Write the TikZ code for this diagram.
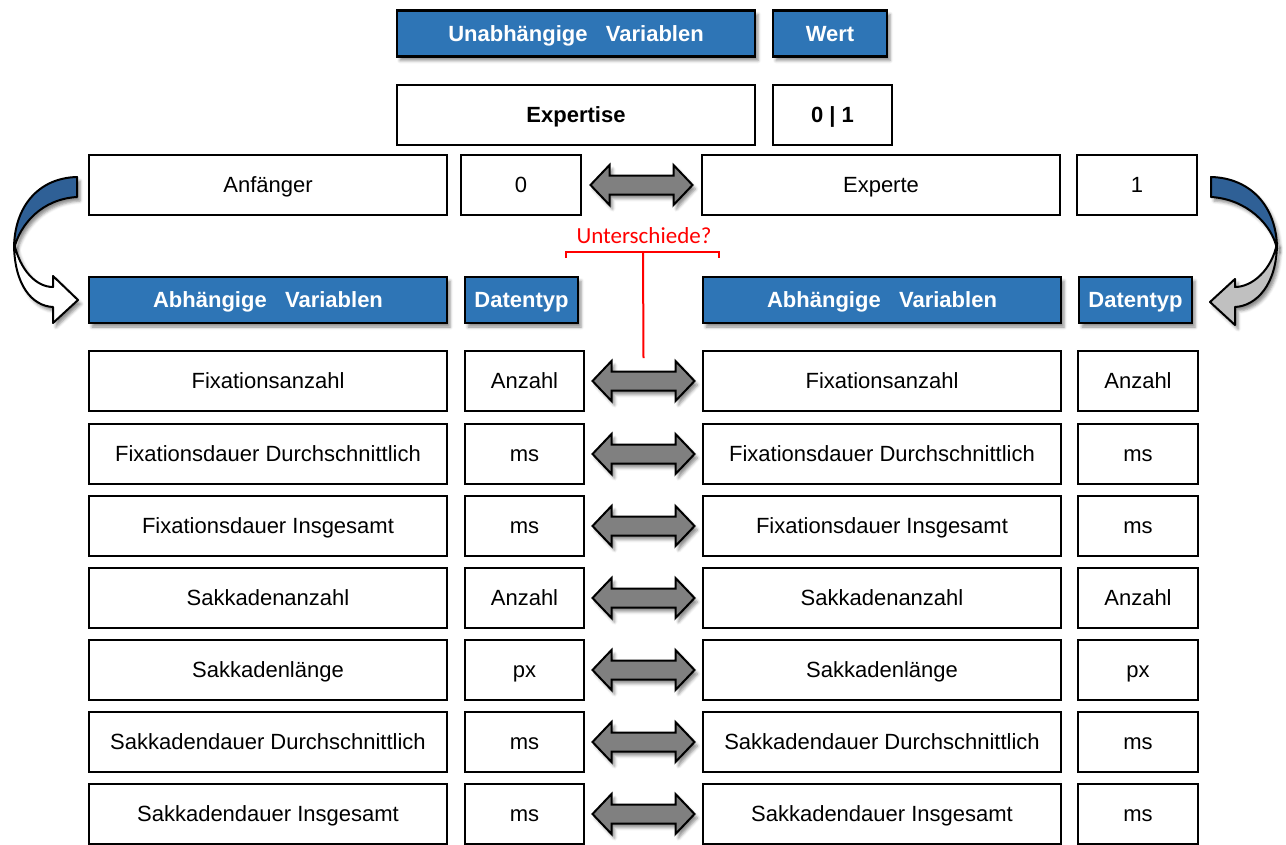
\documentclass[tikz,border=0pt]{standalone}
\usepackage{fontspec}
\setmainfont{Liberation Sans}
\newfontfamily\carlito{Carlito}
\usetikzlibrary{calc,shadows.blur}
\definecolor{hdrblue}{RGB}{46,117,182}
\definecolor{arcblue}{RGB}{47,96,150}
\definecolor{arrowgray}{RGB}{128,128,128}
\definecolor{backgray}{RGB}{192,192,192}

% two-headed arrow centred between two nodes
\newcommand\twoway[2]{%
  \path[dblarrow] let \p1=($(#1.east)!0.5!(#2.west)$) in
    (\x1-51pt,\y1) -- (\x1-32pt,\y1+20pt) -- (\x1-32pt,\y1+9.5pt)
    -- (\x1+32pt,\y1+9.5pt) -- (\x1+32pt,\y1+20pt) -- (\x1+51pt,\y1)
    -- (\x1+32pt,\y1-20pt) -- (\x1+32pt,\y1-9.5pt) -- (\x1-32pt,\y1-9.5pt)
    -- (\x1-32pt,\y1-20pt) -- cycle;}

\begin{document}
\begin{tikzpicture}[x=1pt,y=-1pt,
  softshadow/.style={blur shadow={shadow xshift=3pt, shadow yshift=-4pt,
      shadow blur radius=3pt, shadow opacity=45}},
  cell/.style={draw=black, line width=2.4pt, fill=white, minimum height=60pt,
      inner sep=0pt, text height=15.8pt, text depth=0pt,
      font=\fontsize{22}{26}\selectfont},
  boldcell/.style={cell, font=\fontsize{22}{26}\selectfont\bfseries},
  head/.style={cell, softshadow, fill=hdrblue, text=white, minimum height=46pt,
      font=\fontsize{22}{26}\selectfont\bfseries},
  namew/.style={minimum width=358pt},
  dblarrow/.style={fill=arrowgray, draw=black, line width=2pt, line join=miter, softshadow},
  curvedarrow/.style={draw=black, line width=2pt, line join=round, softshadow},
  remark/.style={red, line width=2pt}
]
\useasboundingbox (0,0) rectangle (1286,844);

% independent variable
\node[head, namew] (uv) at (576,33.5) {Unabhängige\ \ \ Variablen};
\node[head, minimum width=114pt] (wert) at (830,33.5) {Wert};
\node[boldcell, namew] (expertise) at (576,115) {Expertise};
\node[boldcell, minimum width=119pt] (val) at (832.5,115) {0 | 1};

\node[cell, namew] (anf) at (268,185) {Anfänger};
\node[cell, minimum width=120pt] (v0) at (521,185) {0};
\node[cell, namew] (expt) at (881,185) {Experte};
\node[cell, minimum width=120pt] (v1) at (1137,185) {1};
\twoway{v0}{expt}

% dependent variables, headers
\node[head, namew] (hl) at (268,300) {Abhängige\ \ \ Variablen};
\node[head, minimum width=113pt] (dl) at (521.5,300) {Datentyp};
\node[head, namew] (hr) at (882,300) {Abhängige\ \ \ Variablen};
\node[head, minimum width=113pt] (dr) at (1135.5,300) {Datentyp};

% dependent variables, rows
\foreach \yy/\name/\typ [count=\i] in {
    381/Fixationsanzahl/Anzahl,
    454/Fixationsdauer Durchschnittlich/ms,
    526/Fixationsdauer Insgesamt/ms,
    598/Sakkadenanzahl/Anzahl,
    670/Sakkadenlänge/px,
    742/Sakkadendauer Durchschnittlich/ms,
    814/Sakkadendauer Insgesamt/ms}{
  \node[cell, namew] (ln\i) at (268,\yy) {\name};
  \node[cell, minimum width=119pt] (lt\i) at (524.5,\yy) {\typ};
  \node[cell, namew] (rn\i) at (882,\yy) {\name};
  \node[cell, minimum width=120pt] (rt\i) at (1138,\yy) {\typ};
  \twoway{lt\i}{rn\i}
}

% question about differences
\node[text=red, inner sep=0pt, font=\carlito\fontsize{23}{27}\selectfont] (diff) at (644,236) {Unterschiede?};
\draw[remark] (566,258) -- (566,252) -- (719,252) -- (719,258);
\draw[remark] (643,252) -- ($(lt1.east)!0.5!(rn1.west)+(0,-23)$);

% curved arrow, left
\path[curvedarrow, fill=arcblue] (77,177) .. controls (38,178) and (14,207) .. (14,249)
   .. controls (20,224) and (42,199) .. (77,197) -- cycle;
\path[curvedarrow, fill=white] (14,243) .. controls (14,285) and (32,306) .. (53,307)
   -- (53,323) -- (78,300) -- (53,276) -- (53,287)
   .. controls (36,287) and (20,270) .. (14,243) -- cycle;

% curved arrow, right (mirrored)
\begin{scope}[xshift=1288pt, xscale=-1]
\path[curvedarrow, fill=arcblue] (77,177) .. controls (37,178) and (11,207) .. (11,249)
   .. controls (16,224) and (42,199) .. (77,197) -- cycle;
\path[curvedarrow, fill=backgray] (11,243) .. controls (11,285) and (32,306) .. (53,307)
   -- (53,325) -- (78,302) -- (53,279) -- (53,287)
   .. controls (36,287) and (16,270) .. (11,243) -- cycle;
\end{scope}
\end{tikzpicture}
\end{document}
